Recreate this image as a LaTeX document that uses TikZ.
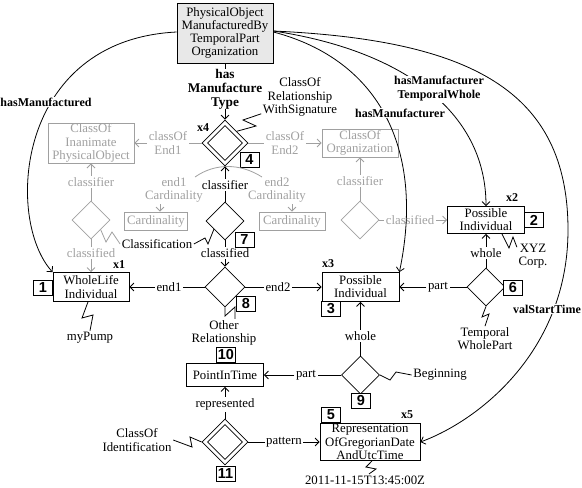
\documentclass[tikz,border=0pt]{standalone}
\usepackage{fontspec}
\setmainfont{Liberation Serif}
\newfontfamily\numfont{Liberation Sans}
\usetikzlibrary{shapes.geometric,arrows.meta}
\definecolor{lg}{HTML}{A0A0A0}
\definecolor{topfill}{HTML}{E8E8E8}
\begin{document}
\begin{tikzpicture}[x=1pt,y=-1pt,
  fnt/.style={font=\fontsize{12.8}{13.2}\selectfont},
  bx/.style={draw, fill=white, line width=0.8pt, align=center, inner sep=1pt, fnt},
  gbx/.style={bx, draw=lg, text=lg},
  lab/.style={align=center, inner sep=1.5pt, fnt},
  glab/.style={lab, text=lg},
  blab/.style={align=center, inner sep=1pt, fill=white, font=\fontsize{12}{14}\selectfont\bfseries},
  xlab/.style={inner sep=0pt, font=\fontsize{12}{14}\selectfont\bfseries},
  num/.style={draw, line width=1pt, fill=white, inner sep=0pt, minimum width=19pt, minimum height=15pt, font=\numfont\fontsize{14.5}{14.5}\selectfont\bfseries},
  dia/.style={diamond, draw, line width=0.8pt, inner sep=0pt, minimum size=38pt, aspect=1},
  gdia/.style={dia, draw=lg},
  ln/.style={line width=0.8pt},
  arr/.style={ln, -{Straight Barb[length=4pt,width=8pt]}},
  gln/.style={ln, draw=lg},
  garr/.style={arr, draw=lg},
]
\useasboundingbox (0,0) rectangle (582,488);

% ---------- main nodes ----------
\node[bx, fill=topfill, minimum width=96pt, minimum height=60pt] (top) at (225,33) {PhysicalObject\\ManufacturedBy\\TemporalPart\\Organization};
\node[blab, fill=none, inner sep=0pt, font=\fontsize{13.3}{14}\selectfont\bfseries] (hmt) at (225,89) {has\\Manufacture\\Type};
\node[dia, minimum size=46pt] (d4) at (225,143) {};
\node[dia, minimum size=35pt] (d4i) at (d4) {};
\node[xlab] (x4) at (203,128) {x4};
\node[num] (n4) at (249.5,159.5) {4};
\node[lab] (relsig) at (300,97) {ClassOf\\Relationship\\WithSignature};

\node[gbx, minimum width=86pt, minimum height=40pt] (inan) at (91,143) {ClassOf\\Inanimate\\PhysicalObject};
\node[glab] (cend1) at (168,143) {classOf\\End1};
\node[glab] (cend2) at (285,143) {classOf\\End2};
\node[gbx, minimum width=76pt, minimum height=28pt] (org) at (360,143) {ClassOf\\Organization};

\node[glab] (ec1) at (174,190) {end1\\Cardinality};
\node[glab] (ec2) at (277,190) {end2\\Cardinality};
\node[gbx, minimum width=63pt, minimum height=18pt] (card1) at (156,221) {Cardinality};
\node[gbx, minimum width=66pt, minimum height=18pt] (card2) at (292,221) {Cardinality};
\node[lab] (cl7) at (225,185) {classifier};

\node[dia] (d7) at (225,221) {};
\node[num] (n7) at (244.5,239.5) {7};
\node[lab] (classif) at (157,244) {Classification};
\node[lab] (cd7) at (225,253) {classified};

\node[gdia] (gd1) at (91,220) {};
\node[glab] (gcl1) at (91,182) {classifier};
\node[glab] (gcd1) at (91,253) {classified};

\node[gdia] (gd2) at (360,220) {};
\node[glab] (gcl2) at (360,181) {classifier};
\node[glab] (gcd2) at (410,220) {classified};

\node[bx, minimum width=77pt, minimum height=27pt] (pi2) at (486,220) {Possible\\Individual};
\node[num] (n2) at (534,220) {2};
\node[xlab] (x2) at (512,198) {x2};
\node[lab] (xyz) at (533,256) {XYZ\\Corp.};
\node[lab] (whole2) at (486,253) {whole};
\node[dia] (d6) at (486,287) {};
\node[num] (n6) at (513,288) {6};
\node[lab] (part6) at (438,287) {part};
\node[lab] (twp) at (485,339) {Temporal\\WholePart};

\node[bx, minimum width=76pt, minimum height=29pt] (wli) at (91,287) {WholeLife\\Individual};
\node[num] (n1) at (43,288) {1};
\node[xlab] (x1) at (119,265) {x1};
\node[lab] (mypump) at (90,338) {myPump};

\node[dia, minimum size=40pt] (d8) at (225,287) {};
\node[num] (n8) at (246,304) {8};
\node[lab] (end1) at (169,287) {end1};
\node[lab] (end2) at (278,287) {end2};
\node[lab] (otherrel) at (224,333) {Other\\Relationship};

\node[bx, minimum width=77pt, minimum height=29pt] (pi3) at (360.5,287) {Possible\\Individual};
\node[num] (n3) at (331,309) {3};
\node[xlab] (x3) at (328,264) {x3};
\node[lab] (whole3) at (360.5,336) {whole};

\node[dia] (d9) at (360.5,375) {};
\node[num] (n9) at (361,401) {9};
\node[lab] (begin) at (440,375) {Beginning};
\node[lab] (part9) at (306,375) {part};

\node[num] (n10) at (226,355) {10};
\node[bx, minimum width=77pt, minimum height=23pt] (pit) at (225,375) {PointInTime};
\node[lab] (repd) at (225,404) {represented};
\node[dia, minimum size=46pt] (d11) at (225,442) {};
\node[dia, minimum size=35pt] (d11i) at (d11) {};
\node[num] (n11) at (225.5,474) {11};
\node[lab] (coi) at (137,440) {ClassOf\\Identification};
\node[lab] (pattern) at (284,442) {pattern};

\node[bx, minimum width=100pt, minimum height=37pt] (rep) at (370,442) {Representation\\OfGregorianDate\\AndUtcTime};
\node[num] (n5) at (331,415) {5};
\node[xlab] (x5) at (407,415) {x5};
\node[lab] (date) at (365,480) {2011-11-15T13:45:00Z};

% ---------- connectors ----------
\draw[ln] (top) -- (hmt);
\draw[arr] (hmt) -- (d4);
\draw[ln] ([yshift=4pt]relsig.south west) -- (243,120) -- (256,126) -- (d4.north east);

\draw[gln] (d4) -- (cend1);
\draw[garr] (cend1) -- (inan);
\draw[gln] (d4) -- (cend2);
\draw[garr] (cend2) -- (org);
\draw[gln] (195,177) .. controls (215,163) and (240,163) .. (262,177);
\draw[garr] ([xshift=-14pt]ec1.south) -- ([xshift=4pt]card1.north);
\draw[garr] ([xshift=15pt]ec2.south) -- (card2.north);

\draw[ln] (d7) -- (cl7);
\draw[arr] (cl7) -- (d4);
\draw[ln] (d7) -- (cd7);
\draw[arr] (cd7) -- (d8);
\draw[ln] (classif.east) -- (205,238) -- (208,244) -- (214,229);

\draw[gln] (gd1) -- (gcl1);
\draw[garr] (gcl1) -- (inan);
\draw[gln] (gd1) -- (gcd1);
\draw[garr] (gcd1) -- (wli);
\draw[gln] (gd1.south east) -- (106,242) -- (112,232) -- (classif.west);

\draw[gln] (gd2) -- (gcl2);
\draw[garr] (gcl2) -- (org);
\draw[gln] (gd2) -- (gcd2);
\draw[garr] (gcd2) -- (pi2);

\draw[ln] (d8) -- (end1);
\draw[arr] (end1) -- (wli);
\draw[ln] (d8) -- (end2);
\draw[arr] (end2) -- (pi3);
\draw[ln] (d8.south) -- (225,316) -- (235,307) -- ([xshift=11pt]otherrel.north);

\draw[ln] ([xshift=-3pt]wli.south) -- (82,318) -- (93,315) -- (mypump.north);

\draw[ln] (d6) -- (whole2);
\draw[arr] (whole2) -- (pi2);
\draw[ln] (d6) -- (part6);
\draw[arr] (part6) -- (pi3);
\draw[ln] (d6.south) -- (482,317) -- (489,314) -- (twp.north);
\draw[ln] ([xshift=16pt]pi2.south) -- (509,248) -- (513,237) -- ([yshift=-5pt]xyz.north west);

\draw[ln] (d9) -- (whole3);
\draw[arr] (whole3) -- (pi3);
\draw[ln] (d9) -- (part9);
\draw[arr] (part9) -- (pit);
\draw[ln] (d9.east) -- (390,380) -- (396,372) -- (begin.west);

\draw[ln] (d11) -- (repd);
\draw[arr] (repd) -- (pit);
\draw[ln] (d11) -- (pattern);
\draw[arr] (pattern) -- (rep);
\draw[ln] (coi.east) -- (192,447) -- (190,437) -- (d11.west);
\draw[ln] ([xshift=2pt]rep.south) -- (366,467) -- (376,469) -- ([xshift=4pt]date.north);

% ---------- long curves ----------
\draw[arr] ([yshift=1pt]top.west) .. controls (15,40) and (5,220) .. (wli.north west);
\draw[arr] ([yshift=1pt]top.east) .. controls (380,60) and (425,150) .. (pi3.north east);
\draw[arr] ([yshift=2pt]top.east) .. controls (400,50) and (486,110) .. (pi2.north);
\coordinate (vmid) at (568,230);
\draw[arr] ([yshift=2pt]top.east) .. controls (470,40) and (568,90) .. (vmid) .. controls (568,350) and (480,420) .. (rep.east);

\node[blab] (lhm) at (46,102) {hasManufactured};
\node[blab] (lhmr) at (400,113) {hasManufacturer};
\node[blab] (lhmtw) at (439,89) {hasManufacturer\\TemporalWhole};
\node[blab] (lvst) at (547,309) {valStartTime};
\end{tikzpicture}
\end{document}
